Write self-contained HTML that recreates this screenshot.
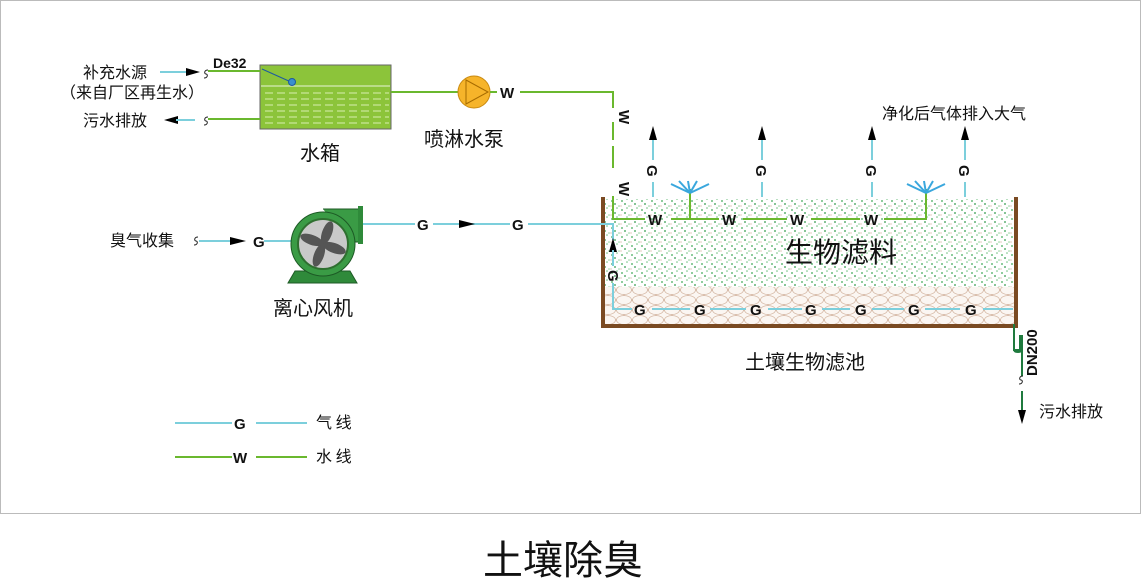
<!DOCTYPE html>
<html><head><meta charset="utf-8"><style>
html,body{margin:0;padding:0;background:#fff;width:1141px;height:580px;overflow:hidden}
svg{display:block}
text{font-family:"Liberation Sans","Noto Sans CJK SC",sans-serif;fill:#111}
.c{font-family:"Noto Sans CJK SC","WenQuanYi Zen Hei",sans-serif}
.n{font-family:"Liberation Sans Narrow","Liberation Sans",sans-serif;font-weight:bold;font-size:15px}
</style></head><body>
<svg width="1141" height="580" viewBox="0 0 1141 580">
<defs>
<pattern id="sp" width="10" height="9" patternUnits="userSpaceOnUse">
<circle cx="2" cy="3" r="0.9" fill="#3fa957"/><circle cx="7" cy="1" r="0.8" fill="#6cc07c"/>
<circle cx="5" cy="6" r="0.9" fill="#2f9a4a"/><circle cx="9" cy="8" r="0.8" fill="#8fcf99"/>
<circle cx="1" cy="8" r="0.6" fill="#c9a58a"/></pattern>
<pattern id="gr" width="16" height="10" patternUnits="userSpaceOnUse">
<ellipse cx="8" cy="5" rx="7.5" ry="4.5" fill="#fbf6f2" stroke="#d6b9a6" stroke-width="0.8"/>
<ellipse cx="0" cy="0" rx="7.5" ry="4.5" fill="#fbf6f2" stroke="#d6b9a6" stroke-width="0.8"/>
<ellipse cx="16" cy="0" rx="7.5" ry="4.5" fill="#fbf6f2" stroke="#d6b9a6" stroke-width="0.8"/>
<ellipse cx="0" cy="10" rx="7.5" ry="4.5" fill="#fbf6f2" stroke="#d6b9a6" stroke-width="0.8"/>
<ellipse cx="16" cy="10" rx="7.5" ry="4.5" fill="#fbf6f2" stroke="#d6b9a6" stroke-width="0.8"/></pattern>
<pattern id="wl" width="12" height="6" patternUnits="userSpaceOnUse">
<line x1="1" y1="3" x2="9" y2="3" stroke="#d8eeb0" stroke-width="1"/></pattern>
<path id="s" d="M2,-4 C-2,-4 -2,0 0,0 C2,0 2,4 -2,4" fill="none" stroke="#222" stroke-width="1"/>
</defs>
<rect x="0.5" y="0.5" width="1140" height="513" fill="#fff" stroke="#bbb"/>

<!-- tank -->
<rect x="260" y="65" width="131" height="64" fill="#8cc43a" stroke="#666"/>
<rect x="262" y="88" width="127" height="39" fill="url(#wl)"/>
<line x1="261" y1="86" x2="390" y2="86" stroke="#e9f5d5" stroke-width="1"/>
<line x1="262" y1="69" x2="291" y2="82" stroke="#1d5aa0"/>
<circle cx="292" cy="82" r="3.5" fill="#3a8fd0" stroke="#1d5aa0"/>
<text class="c" x="300" y="160" font-size="20">水箱</text>
<!-- makeup -->
<text class="c" x="83" y="78" font-size="16">补充水源</text>
<text class="c" x="60" y="98" font-size="16">（来自厂区再生水）</text>
<line x1="160" y1="72" x2="190" y2="72" stroke="#7ccfdc" stroke-width="2"/>
<polygon points="186,68 200,72 186,76" fill="#000"/>
<use href="#s" x="206" y="74"/>
<line x1="208" y1="71" x2="260" y2="71" stroke="#6ab82e" stroke-width="2"/>
<text x="213" y="68" font-size="14" font-weight="bold">De32</text>
<text class="c" x="83" y="126" font-size="16">污水排放</text>
<polygon points="178,116 164,120 178,124" fill="#000"/>
<line x1="176" y1="120" x2="195" y2="120" stroke="#7ccfdc" stroke-width="2"/>
<use href="#s" x="206" y="121"/>
<line x1="208" y1="119" x2="260" y2="119" stroke="#6ab82e" stroke-width="2"/>

<!-- pump -->
<line x1="391" y1="92" x2="460" y2="92" stroke="#6ab82e" stroke-width="2"/>
<circle cx="474" cy="92" r="16" fill="#f6b42a" stroke="#c98a10"/>
<polygon points="466,80 488,92 466,104" fill="none" stroke="#a66b00" stroke-width="1"/>
<line x1="490" y1="92" x2="497" y2="92" stroke="#6ab82e" stroke-width="2"/>
<text class="n" x="500" y="98">W</text>
<line x1="520" y1="92" x2="614" y2="92" stroke="#6ab82e" stroke-width="2"/>
<text class="c" x="424" y="146" font-size="20">喷淋水泵</text>
<line x1="613" y1="92" x2="613" y2="108" stroke="#6ab82e" stroke-width="2"/>
<text class="n" transform="translate(619,110) rotate(90)" font-size="13">W</text>
<line x1="613" y1="122" x2="613" y2="140" stroke="#6ab82e" stroke-width="2"/>
<line x1="613" y1="146" x2="613" y2="168" stroke="#6ab82e" stroke-width="2"/>
<text class="n" transform="translate(619,182) rotate(90)" font-size="13">W</text>

<!-- basin -->
<rect x="604" y="199" width="411" height="126" fill="url(#sp)"/>
<rect x="604" y="287" width="411" height="38" fill="url(#gr)"/>
<path d="M603,197 V326 H1016 V197" fill="none" stroke="#7a4a22" stroke-width="4"/>
<text class="c" x="785" y="262" font-size="28">生物滤料</text>
<text class="c" x="745" y="369" font-size="20">土壤生物滤池</text>

<path d="M613,196 V219 H645" fill="none" stroke="#6ab82e" stroke-width="2"/>
<g fill="none" stroke="#6ab82e" stroke-width="2">
<line x1="671" y1="219" x2="719" y2="219"/><line x1="743" y1="219" x2="787" y2="219"/>
<line x1="811" y1="219" x2="860" y2="219"/><path d="M884,219 H926 V189"/>
<line x1="690" y1="219" x2="690" y2="189"/></g>
<g stroke="#3aa7dd" stroke-width="2">
<line x1="690" y1="193" x2="671" y2="184"/><line x1="690" y1="193" x2="679" y2="181"/><line x1="690" y1="193" x2="688" y2="181"/><line x1="690" y1="193" x2="697" y2="181"/><line x1="690" y1="193" x2="709" y2="184"/>
<line x1="926" y1="193" x2="907" y2="184"/><line x1="926" y1="193" x2="915" y2="181"/><line x1="926" y1="193" x2="924" y2="181"/><line x1="926" y1="193" x2="933" y2="181"/><line x1="926" y1="193" x2="945" y2="184"/></g>
<text class="n" x="648" y="225">W</text><text class="n" x="722" y="225">W</text><text class="n" x="790" y="225">W</text><text class="n" x="864" y="225">W</text>

<g stroke="#7ccfdc" stroke-width="2">
<line x1="653" y1="137" x2="653" y2="160"/><line x1="653" y1="182" x2="653" y2="197"/>
<line x1="762" y1="137" x2="762" y2="160"/><line x1="762" y1="182" x2="762" y2="197"/>
<line x1="872" y1="137" x2="872" y2="160"/><line x1="872" y1="182" x2="872" y2="197"/>
<line x1="965" y1="137" x2="965" y2="160"/><line x1="965" y1="182" x2="965" y2="197"/></g>
<g fill="#000"><polygon points="649,140 653,126 657,140"/><polygon points="758,140 762,126 766,140"/><polygon points="868,140 872,126 876,140"/><polygon points="961,140 965,126 969,140"/></g>
<g class="n" font-size="13"><text transform="translate(647,165) rotate(90)">G</text><text transform="translate(756,165) rotate(90)">G</text><text transform="translate(866,165) rotate(90)">G</text><text transform="translate(959,165) rotate(90)">G</text></g>
<text class="c" x="882" y="119" font-size="16">净化后气体排入大气</text>

<!-- fan -->
<text class="c" x="110" y="246" font-size="16">臭气收集</text>
<use href="#s" x="196" y="241"/>
<line x1="199" y1="241" x2="232" y2="241" stroke="#7ccfdc" stroke-width="2"/>
<polygon points="230,237 246,241 230,245" fill="#000"/>
<text class="n" x="253" y="247">G</text>
<line x1="264" y1="241" x2="291" y2="241" stroke="#7ccfdc" stroke-width="2"/>
<polygon points="288,283 357,283 350,271 295,271" fill="#2f8a3a" stroke="#1d5a25"/>
<path d="M323,209 H360 V242 H350" fill="#3a9b45" stroke="#1d5a25"/>
<rect x="358" y="206" width="5" height="38" fill="#2f8a3a"/>
<circle cx="323" cy="244" r="32" fill="#3a9b45" stroke="#1d5a25"/>
<circle cx="323" cy="244" r="25" fill="#c9c9c9" stroke="#2f6f30" stroke-width="2"/>
<g fill="#555"><ellipse cx="323" cy="232" rx="5" ry="12" transform="rotate(20 323 244)"/><ellipse cx="323" cy="232" rx="5" ry="12" transform="rotate(110 323 244)"/><ellipse cx="323" cy="232" rx="5" ry="12" transform="rotate(200 323 244)"/><ellipse cx="323" cy="232" rx="5" ry="12" transform="rotate(290 323 244)"/></g>
<text class="c" x="273" y="315" font-size="20">离心风机</text>
<line x1="363" y1="224" x2="415" y2="224" stroke="#7ccfdc" stroke-width="2"/>
<text class="n" x="417" y="230">G</text>
<line x1="433" y1="224" x2="510" y2="224" stroke="#7ccfdc" stroke-width="2"/>
<polygon points="459,220 475,224 459,228" fill="#000"/>
<text class="n" x="512" y="230">G</text>
<path d="M528,224 H613 V240" fill="none" stroke="#7ccfdc" stroke-width="2"/>
<polygon points="609,252 613,238 617,252" fill="#000"/>
<line x1="613" y1="250" x2="613" y2="266" stroke="#7ccfdc" stroke-width="2"/>
<text class="n" transform="translate(608,270) rotate(90)" font-size="13">G</text>
<path d="M613,283 V309 H632" fill="none" stroke="#7ccfdc" stroke-width="2"/>
<g stroke="#7ccfdc" stroke-width="2"><line x1="652" y1="309" x2="690" y2="309"/><line x1="710" y1="309" x2="746" y2="309"/><line x1="768" y1="309" x2="802" y2="309"/><line x1="822" y1="309" x2="850" y2="309"/><line x1="872" y1="309" x2="904" y2="309"/><line x1="925" y1="309" x2="960" y2="309"/><line x1="983" y1="309" x2="1013" y2="309"/></g>
<g class="n"><text x="634" y="315">G</text><text x="694" y="315">G</text><text x="750" y="315">G</text><text x="805" y="315">G</text><text x="855" y="315">G</text><text x="908" y="315">G</text><text x="965" y="315">G</text></g>

<!-- outlet -->
<path d="M1014,324 V349 Q1014,352 1018,352 Q1022,352 1022,348 V338 H1022 V375" fill="none" stroke="#1f7a3e" stroke-width="2"/>
<path d="M1014,326 V350 H1020 V336 H1022 V376" fill="none" stroke="#1f7a3e" stroke-width="2"/>
<text class="n" transform="translate(1037,376) rotate(-90)" font-size="14">DN200</text>
<use href="#s" x="1021" y="380"/>
<line x1="1022" y1="391" x2="1022" y2="412" stroke="#1f7a3e" stroke-width="2"/>
<polygon points="1018,410 1022,424 1026,410" fill="#000"/>
<text class="c" x="1039" y="417" font-size="16">污水排放</text>

<!-- legend -->
<line x1="175" y1="423" x2="232" y2="423" stroke="#7ccfdc" stroke-width="2"/>
<text class="n" x="234" y="429">G</text>
<line x1="256" y1="423" x2="307" y2="423" stroke="#7ccfdc" stroke-width="2"/>
<text class="c" x="316" y="428" font-size="16">气 线</text>
<line x1="175" y1="457" x2="232" y2="457" stroke="#6ab82e" stroke-width="2"/>
<text class="n" x="233" y="463">W</text>
<line x1="256" y1="457" x2="307" y2="457" stroke="#6ab82e" stroke-width="2"/>
<text class="c" x="316" y="462" font-size="16">水 线</text>

<text class="c" x="483" y="574" font-size="40">土壤除臭</text>
</svg>
</body></html>
